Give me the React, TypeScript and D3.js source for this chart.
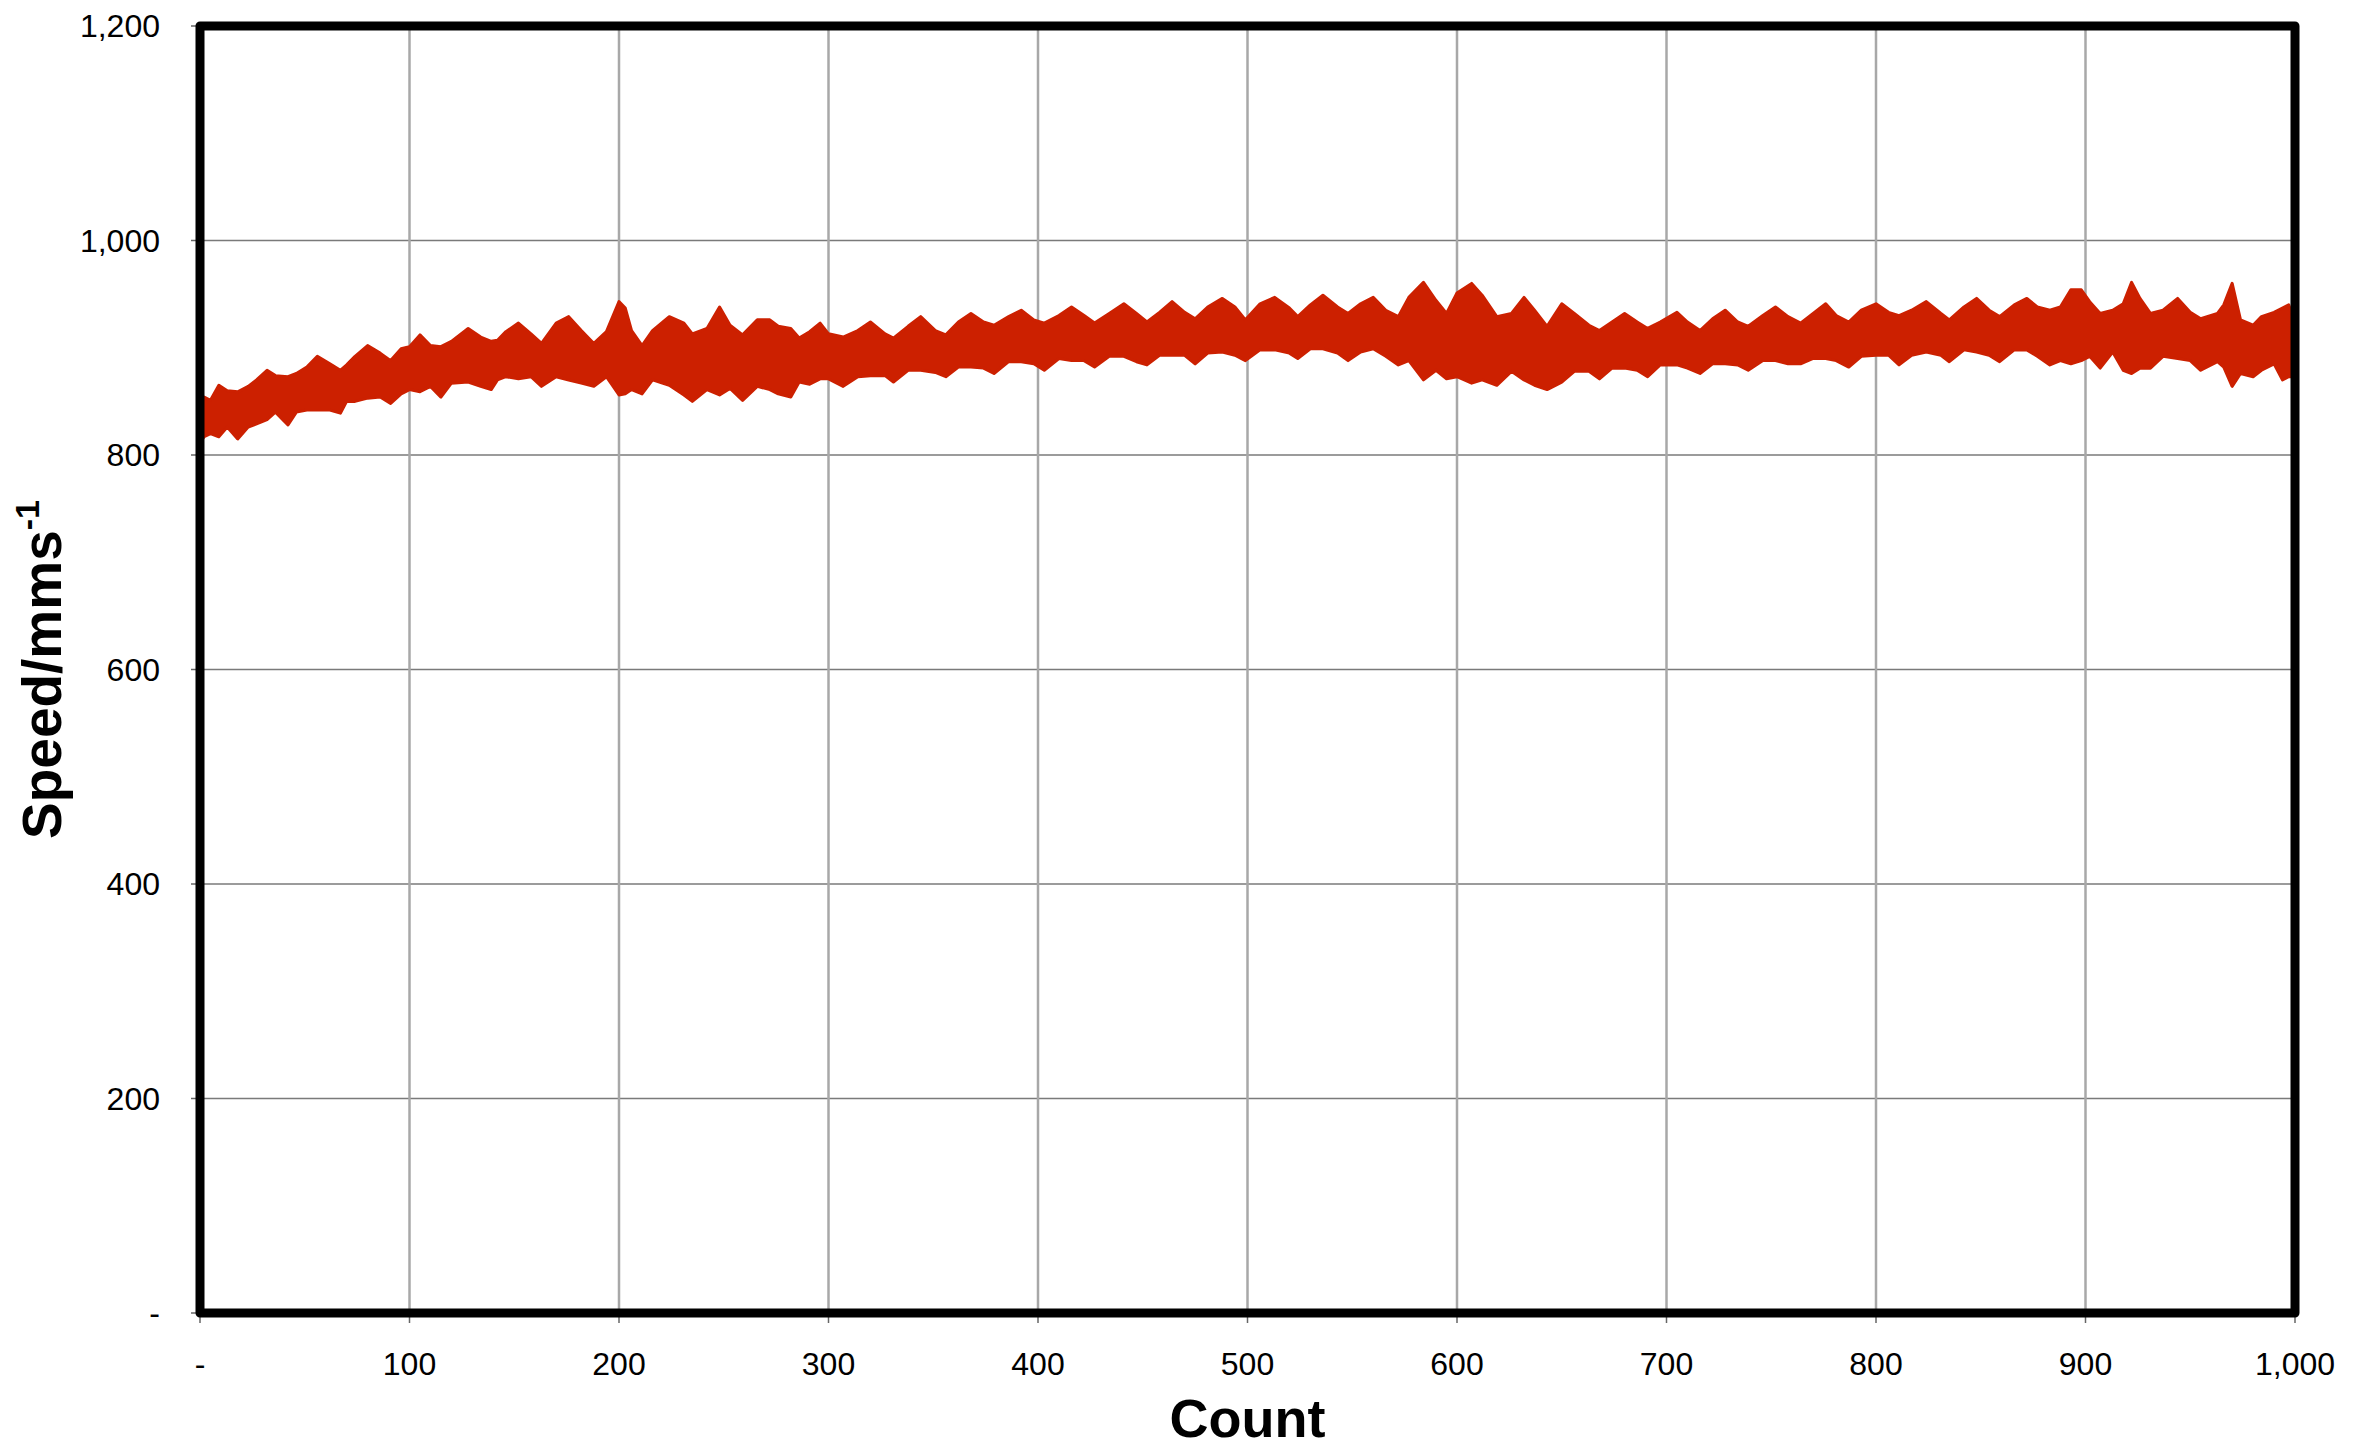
import React, { useEffect, useRef } from 'react';
import * as d3 from 'd3';

// sampled envelope of the speed trace (count -> max / min speed in mm/s)
const counts = [0, 2, 5, 9, 13, 18, 23, 27, 32, 36, 42, 46, 51, 56, 62, 67, 70, 74, 80, 86, 91, 96,
  100, 105, 110, 115, 120, 128, 134, 139, 142, 146, 152, 158, 163, 170, 176, 182, 188, 194,
  200, 203, 206, 211, 216, 224, 231, 235, 242, 248, 253, 259, 266, 272, 276, 282, 286, 291, 296,
  300, 307, 314, 320, 327, 331, 338, 344, 351, 356, 362, 368, 374, 379, 386, 392, 398,
  403, 410, 416, 422, 427, 434, 441, 447, 452, 458, 464, 470, 475, 481, 488, 494, 499,
  506, 513, 520, 524, 530, 536, 543, 548, 554, 560, 566, 572, 577, 584, 590, 595,
  600, 607, 612, 619, 626, 632, 637, 643, 650, 656, 663, 668, 674, 680, 686, 691, 697,
  705, 710, 716, 722, 728, 734, 739, 746, 752, 758, 764, 770, 776, 781, 787, 793,
  800, 806, 811, 817, 824, 831, 835, 842, 848, 854, 859, 866, 872, 877, 883, 888, 893, 898,
  902, 907, 913, 918, 922, 926, 931, 937, 944, 950, 955, 963, 966, 970, 974, 980, 984, 990, 994, 997, 1000];

const upper = [845, 854, 851, 865, 860, 859, 864, 870, 879, 874, 873, 876, 882, 892, 885, 879, 884, 892, 902, 895, 888, 899,
  901, 912, 902, 901, 906, 918, 910, 906, 907, 915, 923, 913, 904, 923, 929, 916, 904, 915,
  943, 937, 916, 902, 916, 929, 923, 913, 918, 938, 921, 912, 926, 926, 920, 918, 909, 915, 923,
  913, 910, 916, 924, 913, 909, 920, 929, 916, 912, 924, 932, 924, 921, 929, 935, 926,
  923, 930, 938, 930, 923, 932, 941, 932, 924, 933, 943, 933, 927, 938, 946, 938, 926,
  941, 947, 937, 929, 940, 949, 938, 932, 941, 947, 935, 929, 947, 961, 944, 932,
  951, 960, 949, 929, 932, 947, 935, 920, 941, 932, 921, 916, 924, 932, 924, 918, 924,
  933, 924, 916, 927, 935, 924, 920, 930, 938, 929, 923, 932, 941, 930, 924, 935,
  941, 933, 930, 935, 943, 932, 926, 938, 946, 935, 929, 940, 946, 938, 935, 938, 954, 954,
  943, 932, 935, 941, 961, 946, 932, 935, 946, 933, 927, 932, 940, 960, 926, 921, 929, 933, 937, 940, 923];

const lower = [812, 817, 820, 817, 826, 815, 826, 829, 833, 840, 828, 840, 842, 842, 842, 839, 850, 850, 853, 854, 848, 857,
  861, 859, 864, 854, 867, 868, 864, 861, 870, 873, 871, 873, 864, 873, 870, 867, 864, 873,
  856, 857, 861, 857, 870, 865, 856, 850, 861, 856, 862, 851, 864, 861, 857, 854, 868, 866, 871,
  871, 864, 873, 874, 874, 868, 879, 879, 877, 873, 882, 882, 881, 876, 887, 887, 885,
  879, 890, 888, 888, 882, 892, 892, 887, 884, 893, 893, 893, 885, 895, 896, 893, 888,
  898, 898, 895, 890, 899, 899, 895, 888, 896, 899, 892, 884, 888, 870, 879, 871,
  873, 867, 870, 865, 878, 870, 865, 861, 868, 878, 878, 871, 881, 881, 879, 873, 884,
  884, 881, 876, 885, 885, 884, 879, 888, 888, 885, 885, 890, 890, 888, 882, 892,
  893, 893, 884, 893, 896, 893, 887, 898, 896, 893, 887, 898, 898, 892, 884, 888, 885, 888,
  892, 881, 896, 879, 876, 881, 881, 892, 890, 888, 879, 887, 882, 864, 876, 873, 879, 885, 870, 873, 873];

const xTicks = [0, 100, 200, 300, 400, 500, 600, 700, 800, 900, 1000];
const yTicks = [0, 200, 400, 600, 800, 1000, 1200];

const width = 2361;
const height = 1450;
const font = '"Liberation Sans", Arial, sans-serif';

const SpeedChart = () => {
  const ref = useRef<SVGSVGElement>(null);

  useEffect(() => {
    const svg = d3.select(ref.current);
    svg.selectAll('*').remove();

    const x = d3.scaleLinear().domain([0, 1000]).range([200, 2295]);
    const y = d3.scaleLinear().domain([0, 1200]).range([1313, 26]);
    const fmt = (v) => (v === 0 ? '-' : d3.format(',')(v));

    // gridlines
    svg.selectAll('.hgrid')
      .data(yTicks.filter((d) => d > 0 && d < 1200))
      .enter()
      .append('line')
      .attr('x1', x(0)).attr('x2', x(1000))
      .attr('y1', (d) => y(d)).attr('y2', (d) => y(d))
      .attr('stroke', '#7a7a7a')
      .attr('stroke-width', 1.5);

    svg.selectAll('.vgrid')
      .data(xTicks.filter((d) => d > 0 && d < 1000))
      .enter()
      .append('line')
      .attr('x1', (d) => x(d)).attr('x2', (d) => x(d))
      .attr('y1', y(0)).attr('y2', y(1200))
      .attr('stroke', '#a8a8a8')
      .attr('stroke-width', 2.5);

    // speed band
    const data = counts.map((c, i) => ({ c, hi: upper[i], lo: lower[i] }));
    const area = d3.area()
      .x((d) => x(d.c))
      .y0((d) => y(d.lo))
      .y1((d) => y(d.hi));

    svg.append('path')
      .datum(data)
      .attr('d', area)
      .attr('fill', '#cc2000')
      .attr('stroke', '#cc2000')
      .attr('stroke-width', 3)
      .attr('stroke-linejoin', 'round');

    // ticks
    svg.selectAll('.ytick')
      .data(yTicks)
      .enter()
      .append('line')
      .attr('x1', x(0) - 9).attr('x2', x(0))
      .attr('y1', (d) => y(d)).attr('y2', (d) => y(d))
      .attr('stroke', '#666')
      .attr('stroke-width', 1.5);

    svg.selectAll('.xtick')
      .data(xTicks)
      .enter()
      .append('line')
      .attr('x1', (d) => x(d)).attr('x2', (d) => x(d))
      .attr('y1', y(0)).attr('y2', y(0) + 10)
      .attr('stroke', '#666')
      .attr('stroke-width', 1.5);

    // frame
    svg.append('rect')
      .attr('x', x(0)).attr('y', y(1200))
      .attr('width', x(1000) - x(0))
      .attr('height', y(0) - y(1200))
      .attr('fill', 'none')
      .attr('stroke', '#000')
      .attr('stroke-width', 9)
      .attr('stroke-linejoin', 'round');

    // tick labels
    svg.selectAll('.ylab')
      .data(yTicks)
      .enter()
      .append('text')
      .attr('x', 160)
      .attr('y', (d) => y(d) + 11)
      .attr('text-anchor', 'end')
      .style('font-family', font)
      .style('font-size', '32px')
      .text(fmt);

    svg.selectAll('.xlab')
      .data(xTicks)
      .enter()
      .append('text')
      .attr('x', (d) => x(d))
      .attr('y', 1375)
      .attr('text-anchor', 'middle')
      .style('font-family', font)
      .style('font-size', '32px')
      .text(fmt);

    // axis titles
    svg.append('text')
      .attr('x', (x(0) + x(1000)) / 2)
      .attr('y', 1437)
      .attr('text-anchor', 'middle')
      .style('font-family', font)
      .style('font-size', '54px')
      .style('font-weight', 'bold')
      .text('Count');

    const yt = svg.append('text')
      .attr('transform', `translate(61, ${(y(0) + y(1200)) / 2}) rotate(-90)`)
      .attr('text-anchor', 'middle')
      .style('font-family', font)
      .style('font-size', '55px')
      .style('font-weight', 'bold');
    yt.append('tspan').text('Speed/mms');
    yt.append('tspan')
      .attr('dy', -22)
      .style('font-size', '34px')
      .text('-1');
  }, []);

  return (
    <svg ref={ref} width={width} height={height}
      style={{ position: 'absolute', left: 0, top: 0, background: '#fff' }} />
  );
};

export default function App() {
  return <SpeedChart />;
}
